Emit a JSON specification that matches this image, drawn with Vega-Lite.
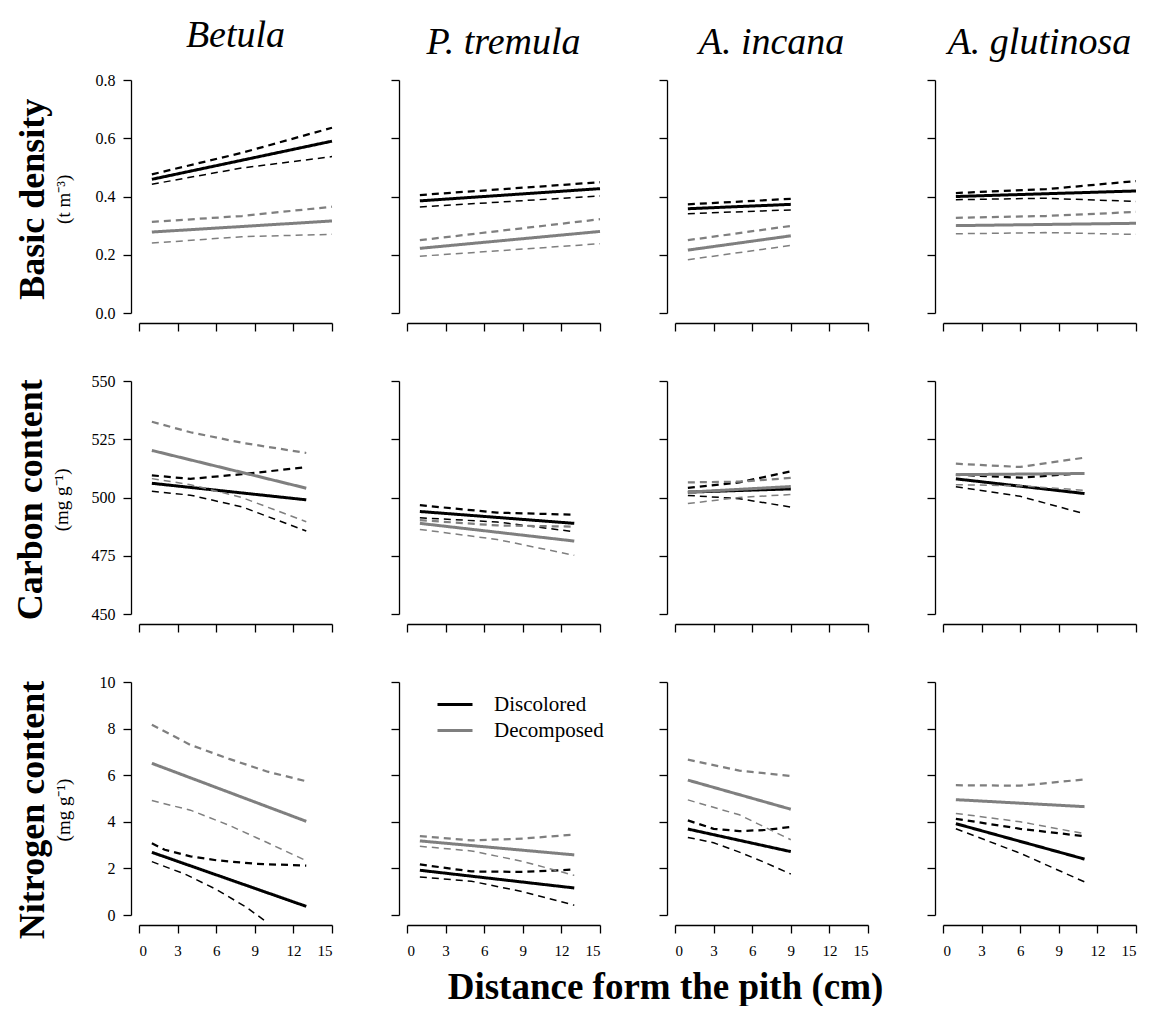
{
"$schema":"https://vega.github.io/schema/vega-lite/v6.json",
"padding":{"left":12,"top":17,"right":0,"bottom":0},
"datasets":{"d":[
{"s":"B","v":"BD","g":"Discolored","k":"fit","x":1,"y":0.459},{"s":"B","v":"BD","g":"Discolored","k":"fit","x":15,"y":0.590},
{"s":"B","v":"BD","g":"Discolored","k":"upper","x":1,"y":0.476},{"s":"B","v":"BD","g":"Discolored","k":"upper","x":8,"y":0.550},{"s":"B","v":"BD","g":"Discolored","k":"upper","x":15,"y":0.636},
{"s":"B","v":"BD","g":"Discolored","k":"lower","x":1,"y":0.442},{"s":"B","v":"BD","g":"Discolored","k":"lower","x":8,"y":0.498},{"s":"B","v":"BD","g":"Discolored","k":"lower","x":15,"y":0.537},
{"s":"B","v":"BD","g":"Decomposed","k":"fit","x":1,"y":0.278},{"s":"B","v":"BD","g":"Decomposed","k":"fit","x":15,"y":0.316},
{"s":"B","v":"BD","g":"Decomposed","k":"upper","x":1,"y":0.313},{"s":"B","v":"BD","g":"Decomposed","k":"upper","x":8,"y":0.333},{"s":"B","v":"BD","g":"Decomposed","k":"upper","x":15,"y":0.365},
{"s":"B","v":"BD","g":"Decomposed","k":"lower","x":1,"y":0.240},{"s":"B","v":"BD","g":"Decomposed","k":"lower","x":8,"y":0.262},{"s":"B","v":"BD","g":"Decomposed","k":"lower","x":15,"y":0.270},

{"s":"P","v":"BD","g":"Discolored","k":"fit","x":1,"y":0.385},{"s":"P","v":"BD","g":"Discolored","k":"fit","x":15,"y":0.427},
{"s":"P","v":"BD","g":"Discolored","k":"upper","x":1,"y":0.405},{"s":"P","v":"BD","g":"Discolored","k":"upper","x":15,"y":0.449},
{"s":"P","v":"BD","g":"Discolored","k":"lower","x":1,"y":0.364},{"s":"P","v":"BD","g":"Discolored","k":"lower","x":15,"y":0.402},
{"s":"P","v":"BD","g":"Decomposed","k":"fit","x":1,"y":0.222},{"s":"P","v":"BD","g":"Decomposed","k":"fit","x":15,"y":0.280},
{"s":"P","v":"BD","g":"Decomposed","k":"upper","x":1,"y":0.250},{"s":"P","v":"BD","g":"Decomposed","k":"upper","x":15,"y":0.322},
{"s":"P","v":"BD","g":"Decomposed","k":"lower","x":1,"y":0.195},{"s":"P","v":"BD","g":"Decomposed","k":"lower","x":15,"y":0.238},

{"s":"I","v":"BD","g":"Discolored","k":"fit","x":1,"y":0.358},{"s":"I","v":"BD","g":"Discolored","k":"fit","x":9,"y":0.373},
{"s":"I","v":"BD","g":"Discolored","k":"upper","x":1,"y":0.373},{"s":"I","v":"BD","g":"Discolored","k":"upper","x":9,"y":0.392},
{"s":"I","v":"BD","g":"Discolored","k":"lower","x":1,"y":0.341},{"s":"I","v":"BD","g":"Discolored","k":"lower","x":9,"y":0.354},
{"s":"I","v":"BD","g":"Decomposed","k":"fit","x":1,"y":0.216},{"s":"I","v":"BD","g":"Decomposed","k":"fit","x":9,"y":0.265},
{"s":"I","v":"BD","g":"Decomposed","k":"upper","x":1,"y":0.250},{"s":"I","v":"BD","g":"Decomposed","k":"upper","x":9,"y":0.299},
{"s":"I","v":"BD","g":"Decomposed","k":"lower","x":1,"y":0.183},{"s":"I","v":"BD","g":"Decomposed","k":"lower","x":9,"y":0.232},

{"s":"G","v":"BD","g":"Discolored","k":"fit","x":1,"y":0.400},{"s":"G","v":"BD","g":"Discolored","k":"fit","x":15,"y":0.419},
{"s":"G","v":"BD","g":"Discolored","k":"upper","x":1,"y":0.412},{"s":"G","v":"BD","g":"Discolored","k":"upper","x":8,"y":0.425},{"s":"G","v":"BD","g":"Discolored","k":"upper","x":15,"y":0.453},
{"s":"G","v":"BD","g":"Discolored","k":"lower","x":1,"y":0.389},{"s":"G","v":"BD","g":"Discolored","k":"lower","x":8,"y":0.394},{"s":"G","v":"BD","g":"Discolored","k":"lower","x":15,"y":0.383},
{"s":"G","v":"BD","g":"Decomposed","k":"fit","x":1,"y":0.300},{"s":"G","v":"BD","g":"Decomposed","k":"fit","x":15,"y":0.308},
{"s":"G","v":"BD","g":"Decomposed","k":"upper","x":1,"y":0.327},{"s":"G","v":"BD","g":"Decomposed","k":"upper","x":8,"y":0.333},{"s":"G","v":"BD","g":"Decomposed","k":"upper","x":15,"y":0.347},
{"s":"G","v":"BD","g":"Decomposed","k":"lower","x":1,"y":0.272},{"s":"G","v":"BD","g":"Decomposed","k":"lower","x":8,"y":0.276},{"s":"G","v":"BD","g":"Decomposed","k":"lower","x":15,"y":0.270},

{"s":"B","v":"C","g":"Discolored","k":"fit","x":1,"y":506.1},{"s":"B","v":"C","g":"Discolored","k":"fit","x":13,"y":499.0},
{"s":"B","v":"C","g":"Discolored","k":"upper","x":1,"y":509.5},{"s":"B","v":"C","g":"Discolored","k":"upper","x":4,"y":508.0},{"s":"B","v":"C","g":"Discolored","k":"upper","x":8,"y":510.0},{"s":"B","v":"C","g":"Discolored","k":"upper","x":13,"y":513.0},
{"s":"B","v":"C","g":"Discolored","k":"lower","x":1,"y":502.7},{"s":"B","v":"C","g":"Discolored","k":"lower","x":4,"y":501.0},{"s":"B","v":"C","g":"Discolored","k":"lower","x":8,"y":496.0},{"s":"B","v":"C","g":"Discolored","k":"lower","x":13,"y":485.6},
{"s":"B","v":"C","g":"Decomposed","k":"fit","x":1,"y":520.2},{"s":"B","v":"C","g":"Decomposed","k":"fit","x":13,"y":504.0},
{"s":"B","v":"C","g":"Decomposed","k":"upper","x":1,"y":532.5},{"s":"B","v":"C","g":"Decomposed","k":"upper","x":4,"y":528.0},{"s":"B","v":"C","g":"Decomposed","k":"upper","x":8,"y":523.5},{"s":"B","v":"C","g":"Decomposed","k":"upper","x":13,"y":519.1},
{"s":"B","v":"C","g":"Decomposed","k":"lower","x":1,"y":508.1},{"s":"B","v":"C","g":"Decomposed","k":"lower","x":4,"y":505.5},{"s":"B","v":"C","g":"Decomposed","k":"lower","x":8,"y":500.0},{"s":"B","v":"C","g":"Decomposed","k":"lower","x":13,"y":489.6},

{"s":"P","v":"C","g":"Discolored","k":"fit","x":1,"y":494.0},{"s":"P","v":"C","g":"Discolored","k":"fit","x":13,"y":488.9},
{"s":"P","v":"C","g":"Discolored","k":"upper","x":1,"y":496.7},{"s":"P","v":"C","g":"Discolored","k":"upper","x":7,"y":493.5},{"s":"P","v":"C","g":"Discolored","k":"upper","x":13,"y":492.6},
{"s":"P","v":"C","g":"Discolored","k":"lower","x":1,"y":491.3},{"s":"P","v":"C","g":"Discolored","k":"lower","x":7,"y":489.5},{"s":"P","v":"C","g":"Discolored","k":"lower","x":13,"y":485.3},
{"s":"P","v":"C","g":"Decomposed","k":"fit","x":1,"y":488.9},{"s":"P","v":"C","g":"Decomposed","k":"fit","x":13,"y":481.3},
{"s":"P","v":"C","g":"Decomposed","k":"upper","x":1,"y":490.3},{"s":"P","v":"C","g":"Decomposed","k":"upper","x":7,"y":488.0},{"s":"P","v":"C","g":"Decomposed","k":"upper","x":13,"y":487.5},
{"s":"P","v":"C","g":"Decomposed","k":"lower","x":1,"y":486.3},{"s":"P","v":"C","g":"Decomposed","k":"lower","x":7,"y":482.0},{"s":"P","v":"C","g":"Decomposed","k":"lower","x":13,"y":475.2},

{"s":"I","v":"C","g":"Discolored","k":"fit","x":1,"y":502.3},{"s":"I","v":"C","g":"Discolored","k":"fit","x":9,"y":503.7},
{"s":"I","v":"C","g":"Discolored","k":"upper","x":1,"y":504.1},{"s":"I","v":"C","g":"Discolored","k":"upper","x":5,"y":506.5},{"s":"I","v":"C","g":"Discolored","k":"upper","x":9,"y":511.2},
{"s":"I","v":"C","g":"Discolored","k":"lower","x":1,"y":500.9},{"s":"I","v":"C","g":"Discolored","k":"lower","x":5,"y":499.5},{"s":"I","v":"C","g":"Discolored","k":"lower","x":9,"y":495.9},
{"s":"I","v":"C","g":"Decomposed","k":"fit","x":1,"y":502.3},{"s":"I","v":"C","g":"Decomposed","k":"fit","x":9,"y":504.7},
{"s":"I","v":"C","g":"Decomposed","k":"upper","x":1,"y":506.5},{"s":"I","v":"C","g":"Decomposed","k":"upper","x":5,"y":506.8},{"s":"I","v":"C","g":"Decomposed","k":"upper","x":9,"y":508.4},
{"s":"I","v":"C","g":"Decomposed","k":"lower","x":1,"y":497.4},{"s":"I","v":"C","g":"Decomposed","k":"lower","x":5,"y":500.0},{"s":"I","v":"C","g":"Decomposed","k":"lower","x":9,"y":501.3},

{"s":"G","v":"C","g":"Discolored","k":"fit","x":1,"y":508.0},{"s":"G","v":"C","g":"Discolored","k":"fit","x":11,"y":501.7},
{"s":"G","v":"C","g":"Discolored","k":"upper","x":1,"y":509.8},{"s":"G","v":"C","g":"Discolored","k":"upper","x":6,"y":508.5},{"s":"G","v":"C","g":"Discolored","k":"upper","x":11,"y":510.5},
{"s":"G","v":"C","g":"Discolored","k":"lower","x":1,"y":504.6},{"s":"G","v":"C","g":"Discolored","k":"lower","x":6,"y":500.5},{"s":"G","v":"C","g":"Discolored","k":"lower","x":11,"y":493.0},
{"s":"G","v":"C","g":"Decomposed","k":"fit","x":1,"y":509.8},{"s":"G","v":"C","g":"Decomposed","k":"fit","x":11,"y":510.3},
{"s":"G","v":"C","g":"Decomposed","k":"upper","x":1,"y":514.5},{"s":"G","v":"C","g":"Decomposed","k":"upper","x":6,"y":513.1},{"s":"G","v":"C","g":"Decomposed","k":"upper","x":11,"y":517.1},
{"s":"G","v":"C","g":"Decomposed","k":"lower","x":1,"y":505.5},{"s":"G","v":"C","g":"Decomposed","k":"lower","x":6,"y":505.0},{"s":"G","v":"C","g":"Decomposed","k":"lower","x":11,"y":503.1},

{"s":"B","v":"N","g":"Discolored","k":"fit","x":1,"y":2.69},{"s":"B","v":"N","g":"Discolored","k":"fit","x":13,"y":0.37},
{"s":"B","v":"N","g":"Discolored","k":"upper","x":1,"y":3.08},{"s":"B","v":"N","g":"Discolored","k":"upper","x":2,"y":2.80},{"s":"B","v":"N","g":"Discolored","k":"upper","x":4,"y":2.52},{"s":"B","v":"N","g":"Discolored","k":"upper","x":6,"y":2.35},{"s":"B","v":"N","g":"Discolored","k":"upper","x":9,"y":2.20},{"s":"B","v":"N","g":"Discolored","k":"upper","x":13,"y":2.12},
{"s":"B","v":"N","g":"Discolored","k":"lower","x":1,"y":2.29},{"s":"B","v":"N","g":"Discolored","k":"lower","x":3.6,"y":1.75},{"s":"B","v":"N","g":"Discolored","k":"lower","x":6,"y":1.10},{"s":"B","v":"N","g":"Discolored","k":"lower","x":8.3,"y":0.35},{"s":"B","v":"N","g":"Discolored","k":"lower","x":9.84,"y":-0.27},
{"s":"B","v":"N","g":"Decomposed","k":"fit","x":1,"y":6.51},{"s":"B","v":"N","g":"Decomposed","k":"fit","x":13,"y":4.02},
{"s":"B","v":"N","g":"Decomposed","k":"upper","x":1,"y":8.17},{"s":"B","v":"N","g":"Decomposed","k":"upper","x":4,"y":7.30},{"s":"B","v":"N","g":"Decomposed","k":"upper","x":7,"y":6.70},{"s":"B","v":"N","g":"Decomposed","k":"upper","x":10,"y":6.15},{"s":"B","v":"N","g":"Decomposed","k":"upper","x":13,"y":5.74},
{"s":"B","v":"N","g":"Decomposed","k":"lower","x":1,"y":4.91},{"s":"B","v":"N","g":"Decomposed","k":"lower","x":4,"y":4.50},{"s":"B","v":"N","g":"Decomposed","k":"lower","x":7,"y":3.85},{"s":"B","v":"N","g":"Decomposed","k":"lower","x":10,"y":3.10},{"s":"B","v":"N","g":"Decomposed","k":"lower","x":13,"y":2.33},

{"s":"P","v":"N","g":"Discolored","k":"fit","x":1,"y":1.92},{"s":"P","v":"N","g":"Discolored","k":"fit","x":13,"y":1.16},
{"s":"P","v":"N","g":"Discolored","k":"upper","x":1,"y":2.17},{"s":"P","v":"N","g":"Discolored","k":"upper","x":5,"y":1.87},{"s":"P","v":"N","g":"Discolored","k":"upper","x":9,"y":1.85},{"s":"P","v":"N","g":"Discolored","k":"upper","x":13,"y":1.95},
{"s":"P","v":"N","g":"Discolored","k":"lower","x":1,"y":1.63},{"s":"P","v":"N","g":"Discolored","k":"lower","x":5,"y":1.45},{"s":"P","v":"N","g":"Discolored","k":"lower","x":9,"y":1.00},{"s":"P","v":"N","g":"Discolored","k":"lower","x":13,"y":0.42},
{"s":"P","v":"N","g":"Decomposed","k":"fit","x":1,"y":3.18},{"s":"P","v":"N","g":"Decomposed","k":"fit","x":13,"y":2.58},
{"s":"P","v":"N","g":"Decomposed","k":"upper","x":1,"y":3.39},{"s":"P","v":"N","g":"Decomposed","k":"upper","x":5,"y":3.20},{"s":"P","v":"N","g":"Decomposed","k":"upper","x":9,"y":3.28},{"s":"P","v":"N","g":"Decomposed","k":"upper","x":13,"y":3.45},
{"s":"P","v":"N","g":"Decomposed","k":"lower","x":1,"y":2.95},{"s":"P","v":"N","g":"Decomposed","k":"lower","x":5,"y":2.75},{"s":"P","v":"N","g":"Decomposed","k":"lower","x":9,"y":2.30},{"s":"P","v":"N","g":"Decomposed","k":"lower","x":13,"y":1.70},

{"s":"I","v":"N","g":"Discolored","k":"fit","x":1,"y":3.69},{"s":"I","v":"N","g":"Discolored","k":"fit","x":9,"y":2.72},
{"s":"I","v":"N","g":"Discolored","k":"upper","x":1,"y":4.06},{"s":"I","v":"N","g":"Discolored","k":"upper","x":3,"y":3.70},{"s":"I","v":"N","g":"Discolored","k":"upper","x":5,"y":3.60},{"s":"I","v":"N","g":"Discolored","k":"upper","x":7,"y":3.65},{"s":"I","v":"N","g":"Discolored","k":"upper","x":9,"y":3.78},
{"s":"I","v":"N","g":"Discolored","k":"lower","x":1,"y":3.33},{"s":"I","v":"N","g":"Discolored","k":"lower","x":3,"y":3.10},{"s":"I","v":"N","g":"Discolored","k":"lower","x":5,"y":2.70},{"s":"I","v":"N","g":"Discolored","k":"lower","x":7,"y":2.25},{"s":"I","v":"N","g":"Discolored","k":"lower","x":9,"y":1.76},
{"s":"I","v":"N","g":"Decomposed","k":"fit","x":1,"y":5.79},{"s":"I","v":"N","g":"Decomposed","k":"fit","x":9,"y":4.54},
{"s":"I","v":"N","g":"Decomposed","k":"upper","x":1,"y":6.67},{"s":"I","v":"N","g":"Decomposed","k":"upper","x":5,"y":6.20},{"s":"I","v":"N","g":"Decomposed","k":"upper","x":9,"y":5.97},
{"s":"I","v":"N","g":"Decomposed","k":"lower","x":1,"y":4.94},{"s":"I","v":"N","g":"Decomposed","k":"lower","x":5,"y":4.30},{"s":"I","v":"N","g":"Decomposed","k":"lower","x":9,"y":3.23},

{"s":"G","v":"N","g":"Discolored","k":"fit","x":1,"y":3.92},{"s":"G","v":"N","g":"Discolored","k":"fit","x":11,"y":2.40},
{"s":"G","v":"N","g":"Discolored","k":"upper","x":1,"y":4.13},{"s":"G","v":"N","g":"Discolored","k":"upper","x":6,"y":3.70},{"s":"G","v":"N","g":"Discolored","k":"upper","x":11,"y":3.38},
{"s":"G","v":"N","g":"Discolored","k":"lower","x":1,"y":3.70},{"s":"G","v":"N","g":"Discolored","k":"lower","x":6,"y":2.65},{"s":"G","v":"N","g":"Discolored","k":"lower","x":11,"y":1.42},
{"s":"G","v":"N","g":"Decomposed","k":"fit","x":1,"y":4.95},{"s":"G","v":"N","g":"Decomposed","k":"fit","x":11,"y":4.65},
{"s":"G","v":"N","g":"Decomposed","k":"upper","x":1,"y":5.57},{"s":"G","v":"N","g":"Decomposed","k":"upper","x":6,"y":5.55},{"s":"G","v":"N","g":"Decomposed","k":"upper","x":11,"y":5.82},
{"s":"G","v":"N","g":"Decomposed","k":"lower","x":1,"y":4.36},{"s":"G","v":"N","g":"Decomposed","k":"lower","x":6,"y":4.00},{"s":"G","v":"N","g":"Decomposed","k":"lower","x":11,"y":3.49}
]},
"title":{"text":"Distance form the pith (cm)","orient":"bottom","anchor":"middle","frame":"bounds","fontStyle":"normal","fontWeight":"bold","fontSize":37,"offset":12,"dx":88},
"spacing":41,
"resolve":{"scale":{"x":"independent","y":"independent","color":"independent","strokeDash":"independent","strokeWidth":"independent"},"legend":{"color":"independent","strokeDash":"independent","strokeWidth":"independent"}},
"vconcat":[
{"hconcat":[
{"width":193,"height":233,"title":{"text":"Betula"},"data":{"name":"d"},"transform":[{"filter":"datum.s==='B' && datum.v==='BD'"}],"mark":{"type":"line","clip":false},
"encoding":{"x":{"field":"x","type":"quantitative","title":null,"scale":{"domain":[0,15],"nice":false,"zero":false},"axis":{"values":[0,3,6,9,12,15],"labels":false}},
"y":{"field":"y","type":"quantitative","title":null,"scale":{"domain":[0,0.8],"nice":false,"zero":false},"axis":{"values":[0,0.2,0.4,0.6,0.8],"format":".1f"}},
"color":{"field":"g","type":"nominal","scale":{"domain":["Discolored","Decomposed"],"range":["#000000","#7f7f7f"]},"legend":null},
"strokeDash":{"field":"k","type":"nominal","scale":{"domain":["fit","upper","lower"],"range":[[1,0],[7,5],[7,5]]},"legend":null},
"strokeWidth":{"field":"k","type":"ordinal","scale":{"domain":["fit","upper","lower"],"range":[3,1.5,1.5]},"legend":null}}},
{"width":193,"height":233,"title":{"text":"P. tremula"},"data":{"name":"d"},"transform":[{"filter":"datum.s==='P' && datum.v==='BD'"}],"mark":{"type":"line","clip":false},
"encoding":{"x":{"field":"x","type":"quantitative","title":null,"scale":{"domain":[0,15],"nice":false,"zero":false},"axis":{"values":[0,3,6,9,12,15],"labels":false}},
"y":{"field":"y","type":"quantitative","title":null,"scale":{"domain":[0,0.8],"nice":false,"zero":false},"axis":{"values":[0,0.2,0.4,0.6,0.8],"labels":false}},
"color":{"field":"g","type":"nominal","scale":{"domain":["Discolored","Decomposed"],"range":["#000000","#7f7f7f"]},"legend":null},
"strokeDash":{"field":"k","type":"nominal","scale":{"domain":["fit","upper","lower"],"range":[[1,0],[7,5],[7,5]]},"legend":null},
"strokeWidth":{"field":"k","type":"ordinal","scale":{"domain":["fit","upper","lower"],"range":[3,1.5,1.5]},"legend":null}}},
{"width":193,"height":233,"title":{"text":"A. incana"},"data":{"name":"d"},"transform":[{"filter":"datum.s==='I' && datum.v==='BD'"}],"mark":{"type":"line","clip":false},
"encoding":{"x":{"field":"x","type":"quantitative","title":null,"scale":{"domain":[0,15],"nice":false,"zero":false},"axis":{"values":[0,3,6,9,12,15],"labels":false}},
"y":{"field":"y","type":"quantitative","title":null,"scale":{"domain":[0,0.8],"nice":false,"zero":false},"axis":{"values":[0,0.2,0.4,0.6,0.8],"labels":false}},
"color":{"field":"g","type":"nominal","scale":{"domain":["Discolored","Decomposed"],"range":["#000000","#7f7f7f"]},"legend":null},
"strokeDash":{"field":"k","type":"nominal","scale":{"domain":["fit","upper","lower"],"range":[[1,0],[7,5],[7,5]]},"legend":null},
"strokeWidth":{"field":"k","type":"ordinal","scale":{"domain":["fit","upper","lower"],"range":[3,1.5,1.5]},"legend":null}}},
{"width":193,"height":233,"title":{"text":"A. glutinosa"},"data":{"name":"d"},"transform":[{"filter":"datum.s==='G' && datum.v==='BD'"}],"mark":{"type":"line","clip":false},
"encoding":{"x":{"field":"x","type":"quantitative","title":null,"scale":{"domain":[0,15],"nice":false,"zero":false},"axis":{"values":[0,3,6,9,12,15],"labels":false}},
"y":{"field":"y","type":"quantitative","title":null,"scale":{"domain":[0,0.8],"nice":false,"zero":false},"axis":{"values":[0,0.2,0.4,0.6,0.8],"labels":false}},
"color":{"field":"g","type":"nominal","scale":{"domain":["Discolored","Decomposed"],"range":["#000000","#7f7f7f"]},"legend":null},
"strokeDash":{"field":"k","type":"nominal","scale":{"domain":["fit","upper","lower"],"range":[[1,0],[7,5],[7,5]]},"legend":null},
"strokeWidth":{"field":"k","type":"ordinal","scale":{"domain":["fit","upper","lower"],"range":[3,1.5,1.5]},"legend":null}}}
],
"spacing":75,"bounds":"flush",
"title":{"text":"Basic density","subtitle":"(t m⁻³)","orient":"left","anchor":"middle","frame":"bounds","fontStyle":"normal","fontWeight":"bold","fontSize":36,"subtitleFont":"Liberation Serif","subtitleFontSize":19,"subtitleColor":"#000","subtitlePadding":3,"offset":18,"dx":-25},
"resolve":{"scale":{"x":"independent","y":"independent","color":"independent","strokeDash":"independent","strokeWidth":"independent"},"legend":{"color":"independent","strokeDash":"independent","strokeWidth":"independent"}}},

{"hconcat":[
{"width":193,"height":233,"data":{"name":"d"},"transform":[{"filter":"datum.s==='B' && datum.v==='C'"}],"mark":{"type":"line","clip":false},
"encoding":{"x":{"field":"x","type":"quantitative","title":null,"scale":{"domain":[0,15],"nice":false,"zero":false},"axis":{"values":[0,3,6,9,12,15],"labels":false}},
"y":{"field":"y","type":"quantitative","title":null,"scale":{"domain":[450,550],"nice":false,"zero":false},"axis":{"values":[450,475,500,525,550]}},
"color":{"field":"g","type":"nominal","scale":{"domain":["Discolored","Decomposed"],"range":["#000000","#7f7f7f"]},"legend":null},
"strokeDash":{"field":"k","type":"nominal","scale":{"domain":["fit","upper","lower"],"range":[[1,0],[7,5],[7,5]]},"legend":null},
"strokeWidth":{"field":"k","type":"ordinal","scale":{"domain":["fit","upper","lower"],"range":[3,1.5,1.5]},"legend":null}}},
{"width":193,"height":233,"data":{"name":"d"},"transform":[{"filter":"datum.s==='P' && datum.v==='C'"}],"mark":{"type":"line","clip":false},
"encoding":{"x":{"field":"x","type":"quantitative","title":null,"scale":{"domain":[0,15],"nice":false,"zero":false},"axis":{"values":[0,3,6,9,12,15],"labels":false}},
"y":{"field":"y","type":"quantitative","title":null,"scale":{"domain":[450,550],"nice":false,"zero":false},"axis":{"values":[450,475,500,525,550],"labels":false}},
"color":{"field":"g","type":"nominal","scale":{"domain":["Discolored","Decomposed"],"range":["#000000","#7f7f7f"]},"legend":null},
"strokeDash":{"field":"k","type":"nominal","scale":{"domain":["fit","upper","lower"],"range":[[1,0],[7,5],[7,5]]},"legend":null},
"strokeWidth":{"field":"k","type":"ordinal","scale":{"domain":["fit","upper","lower"],"range":[3,1.5,1.5]},"legend":null}}},
{"width":193,"height":233,"data":{"name":"d"},"transform":[{"filter":"datum.s==='I' && datum.v==='C'"}],"mark":{"type":"line","clip":false},
"encoding":{"x":{"field":"x","type":"quantitative","title":null,"scale":{"domain":[0,15],"nice":false,"zero":false},"axis":{"values":[0,3,6,9,12,15],"labels":false}},
"y":{"field":"y","type":"quantitative","title":null,"scale":{"domain":[450,550],"nice":false,"zero":false},"axis":{"values":[450,475,500,525,550],"labels":false}},
"color":{"field":"g","type":"nominal","scale":{"domain":["Discolored","Decomposed"],"range":["#000000","#7f7f7f"]},"legend":null},
"strokeDash":{"field":"k","type":"nominal","scale":{"domain":["fit","upper","lower"],"range":[[1,0],[7,5],[7,5]]},"legend":null},
"strokeWidth":{"field":"k","type":"ordinal","scale":{"domain":["fit","upper","lower"],"range":[3,1.5,1.5]},"legend":null}}},
{"width":193,"height":233,"data":{"name":"d"},"transform":[{"filter":"datum.s==='G' && datum.v==='C'"}],"mark":{"type":"line","clip":false},
"encoding":{"x":{"field":"x","type":"quantitative","title":null,"scale":{"domain":[0,15],"nice":false,"zero":false},"axis":{"values":[0,3,6,9,12,15],"labels":false}},
"y":{"field":"y","type":"quantitative","title":null,"scale":{"domain":[450,550],"nice":false,"zero":false},"axis":{"values":[450,475,500,525,550],"labels":false}},
"color":{"field":"g","type":"nominal","scale":{"domain":["Discolored","Decomposed"],"range":["#000000","#7f7f7f"]},"legend":null},
"strokeDash":{"field":"k","type":"nominal","scale":{"domain":["fit","upper","lower"],"range":[[1,0],[7,5],[7,5]]},"legend":null},
"strokeWidth":{"field":"k","type":"ordinal","scale":{"domain":["fit","upper","lower"],"range":[3,1.5,1.5]},"legend":null}}}
],
"spacing":75,"bounds":"flush",
"title":{"text":"Carbon content","subtitle":"(mg g⁻¹)","orient":"left","anchor":"middle","frame":"bounds","fontStyle":"normal","fontWeight":"bold","fontSize":36,"subtitleFont":"Liberation Serif","subtitleFontSize":19,"subtitleColor":"#000","subtitlePadding":3,"offset":18,"dx":3},
"resolve":{"scale":{"x":"independent","y":"independent","color":"independent","strokeDash":"independent","strokeWidth":"independent"},"legend":{"color":"independent","strokeDash":"independent","strokeWidth":"independent"}}},

{"hconcat":[
{"width":193,"height":233,"data":{"name":"d"},"transform":[{"filter":"datum.s==='B' && datum.v==='N'"}],"mark":{"type":"line","clip":false},
"encoding":{"x":{"field":"x","type":"quantitative","title":null,"scale":{"domain":[0,15],"nice":false,"zero":false},"axis":{"values":[0,3,6,9,12,15]}},
"y":{"field":"y","type":"quantitative","title":null,"scale":{"domain":[0,10],"nice":false,"zero":false},"axis":{"values":[0,2,4,6,8,10]}},
"color":{"field":"g","type":"nominal","scale":{"domain":["Discolored","Decomposed"],"range":["#000000","#7f7f7f"]},"legend":null},
"strokeDash":{"field":"k","type":"nominal","scale":{"domain":["fit","upper","lower"],"range":[[1,0],[7,5],[7,5]]},"legend":null},
"strokeWidth":{"field":"k","type":"ordinal","scale":{"domain":["fit","upper","lower"],"range":[3,1.5,1.5]},"legend":null}}},
{"width":193,"height":233,"data":{"name":"d"},"transform":[{"filter":"datum.s==='P' && datum.v==='N'"}],"mark":{"type":"line","clip":false},
"encoding":{"x":{"field":"x","type":"quantitative","title":null,"scale":{"domain":[0,15],"nice":false,"zero":false},"axis":{"values":[0,3,6,9,12,15]}},
"y":{"field":"y","type":"quantitative","title":null,"scale":{"domain":[0,10],"nice":false,"zero":false},"axis":{"values":[0,2,4,6,8,10],"labels":false}},
"color":{"field":"g","type":"nominal","scale":{"domain":["Discolored","Decomposed"],"range":["#000000","#7f7f7f"]},"legend":{"orient":"none","legendX":29,"legendY":12,"title":null,"labelFont":"Liberation Serif","labelFontSize":21,"labelColor":"#000","symbolType":"stroke","symbolStrokeWidth":3,"symbolSize":1225,"labelOffset":20,"rowPadding":4,"clipHeight":21}},
"strokeDash":{"field":"k","type":"nominal","scale":{"domain":["fit","upper","lower"],"range":[[1,0],[7,5],[7,5]]},"legend":null},
"strokeWidth":{"field":"k","type":"ordinal","scale":{"domain":["fit","upper","lower"],"range":[3,1.5,1.5]},"legend":null}}},
{"width":193,"height":233,"data":{"name":"d"},"transform":[{"filter":"datum.s==='I' && datum.v==='N'"}],"mark":{"type":"line","clip":false},
"encoding":{"x":{"field":"x","type":"quantitative","title":null,"scale":{"domain":[0,15],"nice":false,"zero":false},"axis":{"values":[0,3,6,9,12,15]}},
"y":{"field":"y","type":"quantitative","title":null,"scale":{"domain":[0,10],"nice":false,"zero":false},"axis":{"values":[0,2,4,6,8,10],"labels":false}},
"color":{"field":"g","type":"nominal","scale":{"domain":["Discolored","Decomposed"],"range":["#000000","#7f7f7f"]},"legend":null},
"strokeDash":{"field":"k","type":"nominal","scale":{"domain":["fit","upper","lower"],"range":[[1,0],[7,5],[7,5]]},"legend":null},
"strokeWidth":{"field":"k","type":"ordinal","scale":{"domain":["fit","upper","lower"],"range":[3,1.5,1.5]},"legend":null}}},
{"width":193,"height":233,"data":{"name":"d"},"transform":[{"filter":"datum.s==='G' && datum.v==='N'"}],"mark":{"type":"line","clip":false},
"encoding":{"x":{"field":"x","type":"quantitative","title":null,"scale":{"domain":[0,15],"nice":false,"zero":false},"axis":{"values":[0,3,6,9,12,15]}},
"y":{"field":"y","type":"quantitative","title":null,"scale":{"domain":[0,10],"nice":false,"zero":false},"axis":{"values":[0,2,4,6,8,10],"labels":false}},
"color":{"field":"g","type":"nominal","scale":{"domain":["Discolored","Decomposed"],"range":["#000000","#7f7f7f"]},"legend":null},
"strokeDash":{"field":"k","type":"nominal","scale":{"domain":["fit","upper","lower"],"range":[[1,0],[7,5],[7,5]]},"legend":null},
"strokeWidth":{"field":"k","type":"ordinal","scale":{"domain":["fit","upper","lower"],"range":[3,1.5,1.5]},"legend":null}}}
],
"spacing":75,"bounds":"flush",
"title":{"text":"Nitrogen content","subtitle":"(mg g⁻¹)","orient":"left","anchor":"middle","frame":"bounds","fontStyle":"normal","fontWeight":"bold","fontSize":36,"subtitleFont":"Liberation Serif","subtitleFontSize":19,"subtitleColor":"#000","subtitlePadding":3,"offset":18,"dx":6},
"resolve":{"scale":{"x":"independent","y":"independent","color":"independent","strokeDash":"independent","strokeWidth":"independent"},"legend":{"color":"independent","strokeDash":"independent","strokeWidth":"independent"}}}
],
"config":{
"view":{"stroke":null},
"font":"Liberation Serif",
"axis":{"grid":false,"domainColor":"#000","domainWidth":1.3,"tickColor":"#000","tickWidth":1.3,"tickSize":8,"labelFont":"Liberation Serif","labelColor":"#000","labelFontSize":16,"labelPadding":8},
"axisX":{"offset":10,"labelFontSize":15,"labelPadding":10},
"axisY":{"offset":8,"labelAngle":0,"minExtent":38,"maxExtent":38},
"title":{"font":"Liberation Serif","fontSize":38,"fontStyle":"italic","fontWeight":"normal","color":"#000","frame":"group","anchor":"middle","offset":17},
"line":{"strokeCap":"butt"}
}
}
